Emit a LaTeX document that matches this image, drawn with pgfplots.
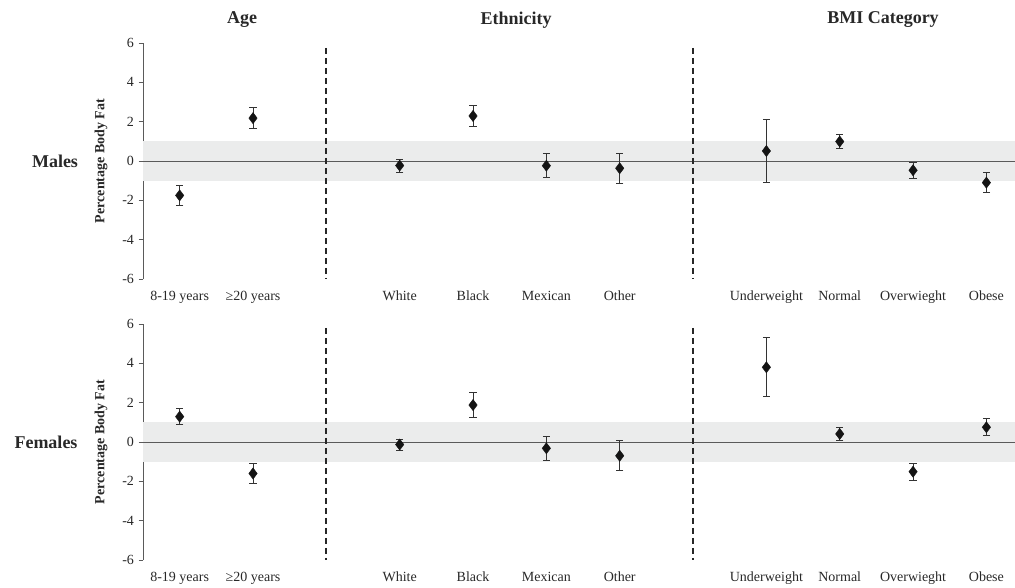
\documentclass[border=0pt]{standalone}
\usepackage{pgfplots}
\pgfplotsset{compat=1.18}
\usepackage{pgfplotstable}
\usepackage{fontspec}
\setmainfont{Liberation Serif}

\definecolor{band}{RGB}{235,236,236}
\definecolor{axgray}{RGB}{90,90,90}
\definecolor{txt}{RGB}{40,40,40}

\pgfplotstableread{
x y e
0 -1.75 0.50
1 2.18 0.53
3 -0.23 0.33
4 2.29 0.55
5 -0.24 0.62
6 -0.37 0.75
8 0.51 1.58
9 0.99 0.35
10 -0.47 0.40
11 -1.10 0.52
}\males

\pgfplotstableread{
x y e
0 1.29 0.41
1 -1.60 0.49
3 -0.13 0.28
4 1.88 0.62
5 -0.32 0.60
6 -0.70 0.77
8 3.80 1.50
9 0.41 0.34
10 -1.51 0.44
11 0.75 0.42
}\females

\pgfplotsset{
  panel/.style={
    scale only axis,
    width=872pt, height=236pt,
    xmin=-0.5, xmax=11.39,
    ymin=-6, ymax=6,
    axis x line*=bottom,
    axis y line*=left,
    x axis line style={draw=none},
    y axis line style={draw=axgray, line width=0.8pt, -},
    xtick={0,1,3,4,5,6,8,9,10,11},
    xticklabels={8-19 years, ≥20 years, White, Black, Mexican, Other, Underweight, Normal, Overwieght, Obese},
    x tick style={draw=none},
    ytick={-6,-4,-2,0,2,4,6},
    yticklabels={-6,-4,-2,0,2,4,6},
    tick align=outside,
    major tick length=4.5pt,
    y tick style={draw=axgray, line width=0.8pt},
    ticklabel style={font=\fontsize{14}{16}\selectfont, text=txt},
    xticklabel style={text height=1.6ex, text depth=0.4ex, yshift=-6pt},
    yticklabel style={xshift=-1pt},
    clip=true,
  },
  pts/.style={
    only marks, mark=diamond*, mark size=5.6pt,
    mark options={fill=black!92, draw=black!92},
    error bars/.cd, y dir=both, y explicit,
    error bar style={line width=1pt, draw=black!80},
    error mark options={rotate=90, mark size=3.6pt, line width=1pt, draw=black!80},
  },
}

\begin{document}
\begin{tikzpicture}
\path[use as bounding box] (0,0) rectangle (1015pt,-587pt);

% Top panel: Males
\begin{axis}[panel, at={(143pt,-279pt)}, anchor=south west]
  \fill[band] (axis cs:-0.5,-1) rectangle (axis cs:11.39,1);
  \draw[axgray, line width=0.9pt] (axis cs:-0.5,0) -- (axis cs:11.39,0);
  \draw[black!85, line width=1.8pt, dash pattern=on 6pt off 4pt] (axis cs:2,5.75) -- (axis cs:2,-6);
  \draw[black!85, line width=1.8pt, dash pattern=on 6pt off 4pt] (axis cs:7,5.75) -- (axis cs:7,-6);
  \addplot[pts] table[x=x, y=y, y error=e] {\males};
\end{axis}

% Bottom panel: Females
\begin{axis}[panel, at={(143pt,-560pt)}, anchor=south west]
  \fill[band] (axis cs:-0.5,-1) rectangle (axis cs:11.39,1);
  \draw[axgray, line width=0.9pt] (axis cs:-0.5,0) -- (axis cs:11.39,0);
  \draw[black!85, line width=1.8pt, dash pattern=on 6pt off 4pt] (axis cs:2,5.8) -- (axis cs:2,-6);
  \draw[black!85, line width=1.8pt, dash pattern=on 6pt off 4pt] (axis cs:7,5.8) -- (axis cs:7,-6);
  \addplot[pts] table[x=x, y=y, y error=e] {\females};
\end{axis}

% Column titles
\node[font=\fontsize{18}{20}\selectfont\bfseries, text=txt] at (242pt,-20pt) {Age};
\node[font=\fontsize{18}{20}\selectfont\bfseries, text=txt] at (516pt,-20pt) {Ethnicity};
\node[font=\fontsize{18}{20}\selectfont\bfseries, text=txt] at (883pt,-20pt) {BMI Category};

% Row labels
\node[font=\fontsize{18}{20}\selectfont\bfseries, text=txt] at (55pt,-161pt) {Males};
\node[font=\fontsize{18}{20}\selectfont\bfseries, text=txt] at (46pt,-442pt) {Females};

% Y axis labels
\node[rotate=90, font=\fontsize{14}{16}\selectfont\bfseries, text=txt] at (101pt,-161pt) {Percentage Body Fat};
\node[rotate=90, font=\fontsize{14}{16}\selectfont\bfseries, text=txt] at (101pt,-442pt) {Percentage Body Fat};
\end{tikzpicture}
\end{document}
